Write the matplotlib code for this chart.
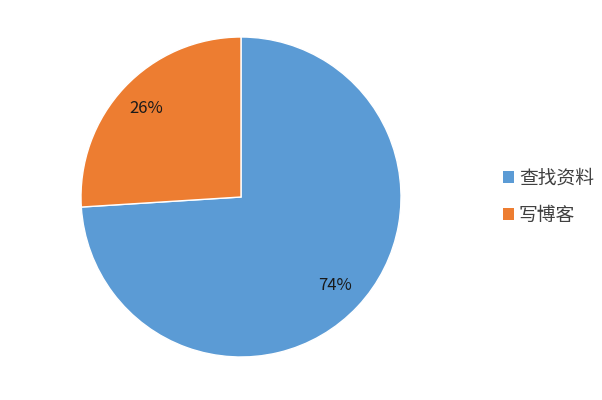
import matplotlib.pyplot as plt
from matplotlib.patches import Patch

plt.rcParams['font.family'] = ['Noto Sans CJK SC', 'DejaVu Sans']

labels = ['查找资料', '写博客']
values = [74, 26]
colors = ['#5B9BD5', '#ED7D31']

fig = plt.figure(figsize=(6.02, 4.0), dpi=100)
ax = fig.add_axes([81 / 602, 43 / 400, 320 / 602, 320 / 400])

wedges, texts, autotexts = ax.pie(
    values, colors=colors, startangle=90, counterclock=False,
    autopct='%d%%', pctdistance=0.81,
    wedgeprops=dict(edgecolor='white', linewidth=1),
    textprops=dict(fontsize=12, color='#1a1a1a'))
ax.set_xlim(-1, 1)
ax.set_ylim(-1, 1)
ax.set_aspect('equal')

handles = [Patch(facecolor=c, label=l) for c, l in zip(colors, labels)]
fig.legend(handles=handles, loc='center left', bbox_to_anchor=(486 / 602, 1 - 197 / 400),
           frameon=False, fontsize=13.5, handlelength=0.6, handleheight=0.6,
           handletextpad=0.25, labelspacing=0.85, labelcolor='#404040')

fig.savefig('out.png', dpi=100)
